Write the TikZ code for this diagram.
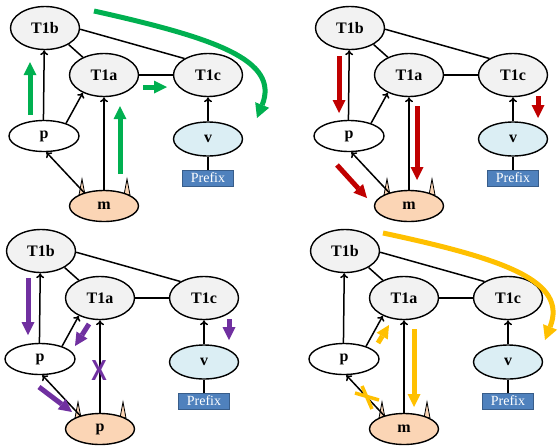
\documentclass[tikz,border=0pt]{standalone}
\usepackage{fontspec}
\setmainfont{Liberation Serif}
\newfontfamily\xsans{Liberation Sans}
\usetikzlibrary{shapes.geometric,arrows.meta}
\definecolor{gfill}{HTML}{F2F2F2}
\definecolor{vfill}{HTML}{DBEEF4}
\definecolor{mfill}{HTML}{FBD5B5}
\definecolor{pfill}{HTML}{4F81BD}
\definecolor{pdraw}{HTML}{385D8A}
\definecolor{cgreen}{HTML}{00B050}
\definecolor{cred}{HTML}{C00000}
\definecolor{cpurple}{HTML}{7030A0}
\definecolor{cyellow}{HTML}{FFC000}
\tikzset{
 ell/.style={ellipse, draw, line width=1.4pt, inner sep=0pt, font=\bfseries\fontsize{16}{16}\selectfont},
 gnode/.style={ell, fill=gfill, minimum width=69pt, minimum height=43pt},
 pnode/.style={ell, fill=white, minimum width=70pt, minimum height=31pt},
 vnode/.style={ell, fill=vfill, minimum width=69pt, minimum height=34pt},
 mnode/.style={ell, fill=mfill, minimum width=69pt, minimum height=31pt},
 prefixbox/.style={rectangle, fill=pfill, draw=pdraw, line width=0.8pt, minimum width=51pt, minimum height=16pt, inner sep=0pt, text=white, font=\fontsize{14}{14}\selectfont},
 link/.style={line width=1.5pt},
 dep/.style={line width=1.5pt, -{To[length=5pt,width=8pt]}},
 horn/.style={fill=mfill, draw, line width=0.8pt},
 big/.style={line width=5pt, -{Triangle[length=13pt,width=13pt,line width=0pt]}},
 curvy/.style={line width=5pt, -{Triangle[length=14pt,width=15pt,line width=0pt]}},
}
\newcommand{\drawpanel}[3]{%
\begin{scope}[shift={#2}]
\node[gnode] (#1T1b) at (45,28) {T1b};
\node[gnode] (#1T1a) at (104,75) {T1a};
\node[gnode] (#1T1c) at (208,75) {T1c};
\node[pnode] (#1p) at (44,136) {p};
\node[vnode] (#1v) at (208,139) {v};
\node[prefixbox] (#1pre) at (208,178) {Prefix};
\draw[horn] (79,195) -- (82,179) -- (85,195) -- cycle;
\draw[horn] (124,195) -- (127,179) -- (130,195) -- cycle;
\node[mnode] (#1m) at (104,206) {#3};
\draw[link] (#1T1b.-35) -- (#1T1a.140);
\draw[link] (#1T1b.-2) -- (#1T1c.145);
\draw[link] (#1T1a) -- (#1T1c);
\draw[dep] (#1p.92) -- (#1T1b.-92);
\draw[dep] (#1p.30) -- (#1T1a.220);
\draw[dep] (#1m) -- (#1T1a);
\draw[dep] (#1m.146) -- (#1p.-82);
\draw[dep] (#1v) -- (#1T1c);
\draw[link] (#1v) -- (#1pre);
\end{scope}}
\begin{document}
\begin{tikzpicture}[x=1pt,y=-1pt]
\useasboundingbox (0,0) rectangle (559,445);
\drawpanel{a}{(0,0)}{m}
\drawpanel{b}{(305,0)}{m}
\drawpanel{c}{(-4,223)}{p}
\drawpanel{d}{(300,223)}{m}
% panel 1: green
\begin{scope}[shift={(0,0)}, cgreen]
\draw[big] (30,115) -- (30,62);
\draw[big] (120,174) -- (120,106);
\draw[big] (143,87) -- (167,87);
\draw[curvy] (94,11) .. controls (215,38) and (280,60) .. (257,118);
\end{scope}
% panel 2: red
\begin{scope}[shift={(305,0)}, cred]
\draw[big] (34,56) -- (34,113);
\draw[big] (112,106) -- (112,180);
\draw[big] (233,96) -- (233,118);
\draw[big] (32,165) -- (62,198);
\end{scope}
% panel 3: purple
\begin{scope}[shift={(-4,223)}, cpurple]
\draw[big] (32,55) -- (32,112);
\draw[big] (93,101) -- (79,123);
\draw[big] (233,96) -- (233,117);
\draw[big] (43,164) -- (76,189);
\node[text=cpurple, inner sep=0pt, font=\xsans\bfseries\fontsize{29}{29}\selectfont] (cX) at (103,148) {\scalebox{0.8}[1]{X}};
\end{scope}
% panel 4: yellow
\begin{scope}[shift={(300,223)}, cyellow]
\draw[curvy] (83,10) .. controls (205,36) and (268,58) .. (245,117);
\draw[big] (78,120) -- (89,102);
\draw[big] (114,106) -- (114,184);
\draw[line width=3.5pt] (55,170) -- (79,177);
\draw[line width=3.5pt] (62,163) -- (72,186);
\end{scope}
\end{tikzpicture}
\end{document}
